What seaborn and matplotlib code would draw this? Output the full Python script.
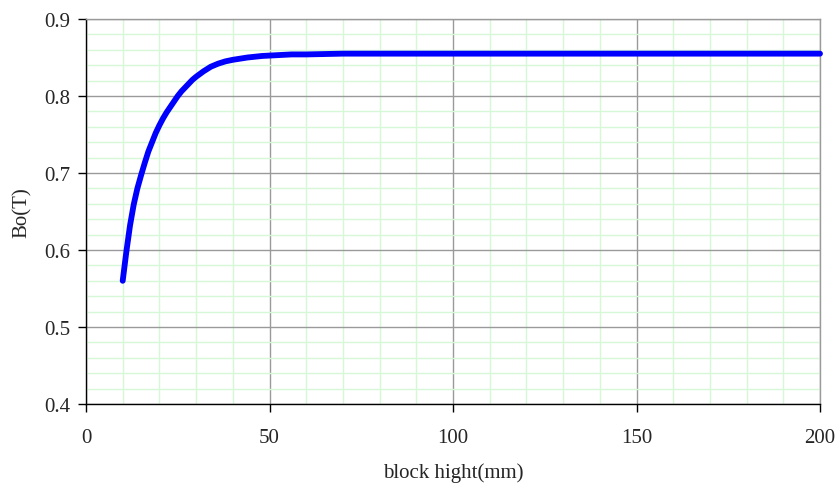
import matplotlib
matplotlib.use("Agg")
import matplotlib.pyplot as plt
from matplotlib.ticker import MultipleLocator, FuncFormatter
import pandas as pd
import seaborn as sns

# Remanent flux density versus magnet block height
block_height_mm = [10, 11, 12, 13, 14, 15, 16, 17, 18, 19, 20, 21, 22, 23, 24, 25, 26, 27,
                   28, 29, 30, 32, 34, 36, 38, 40, 44, 48, 52, 56, 60, 70, 80, 100, 150, 200]
bo_tesla = [0.560, 0.598, 0.632, 0.659, 0.680, 0.697, 0.713, 0.728, 0.740, 0.752, 0.762,
            0.771, 0.779, 0.786, 0.793, 0.800, 0.806, 0.811, 0.816, 0.821, 0.825,
            0.832, 0.838, 0.842, 0.845, 0.847, 0.850, 0.852, 0.853, 0.854, 0.854,
            0.855, 0.855, 0.855, 0.855, 0.855]

df = pd.DataFrame({"block hight(mm)": block_height_mm, "Bo(T)": bo_tesla})

sns.set_style("white")
plt.rcParams["font.family"] = ["Liberation Serif", "DejaVu Serif"]

fig = plt.figure(figsize=(8.4, 4.89), dpi=100)
ax = fig.add_axes([86 / 840, 1 - 405 / 489, 734 / 840, 385 / 489])

ax.set_xlim(0, 200)
ax.set_ylim(0.4, 0.9)
ax.xaxis.set_major_locator(MultipleLocator(50))
ax.xaxis.set_minor_locator(MultipleLocator(10))
ax.yaxis.set_major_locator(MultipleLocator(0.1))
ax.yaxis.set_minor_locator(MultipleLocator(0.02))

ax.grid(which="minor", color="#d6f8d6", linewidth=1.0, zorder=0)
ax.grid(which="major", color="#9a9a9a", linewidth=1.0, zorder=0)
ax.set_axisbelow(True)

sns.lineplot(data=df, x="block hight(mm)", y="Bo(T)", ax=ax, color="#0000ff",
             linewidth=4.2, solid_capstyle="round", solid_joinstyle="round",
             zorder=3, clip_on=False)

ax.yaxis.set_major_formatter(FuncFormatter(lambda v, p: f"{v:.1f}"))

for side in ("left", "bottom"):
    ax.spines[side].set_color("#000000")
    ax.spines[side].set_linewidth(1.0)
for side in ("top", "right"):
    ax.spines[side].set_color("#9a9a9a")
    ax.spines[side].set_linewidth(1.0)

ax.tick_params(axis="both", which="major", direction="out", length=6, width=1,
               color="#000000", labelsize=15, left=True, bottom=True)
ax.tick_params(axis="x", which="major", pad=11)
ax.tick_params(axis="y", which="major", pad=5)
ax.tick_params(axis="both", which="minor", length=0)

ax.set_xlabel("block hight(mm)", fontsize=15, labelpad=11)
ax.set_ylabel("Bo(T)", fontsize=15, labelpad=9)

fig.savefig("out.png", dpi=100)
